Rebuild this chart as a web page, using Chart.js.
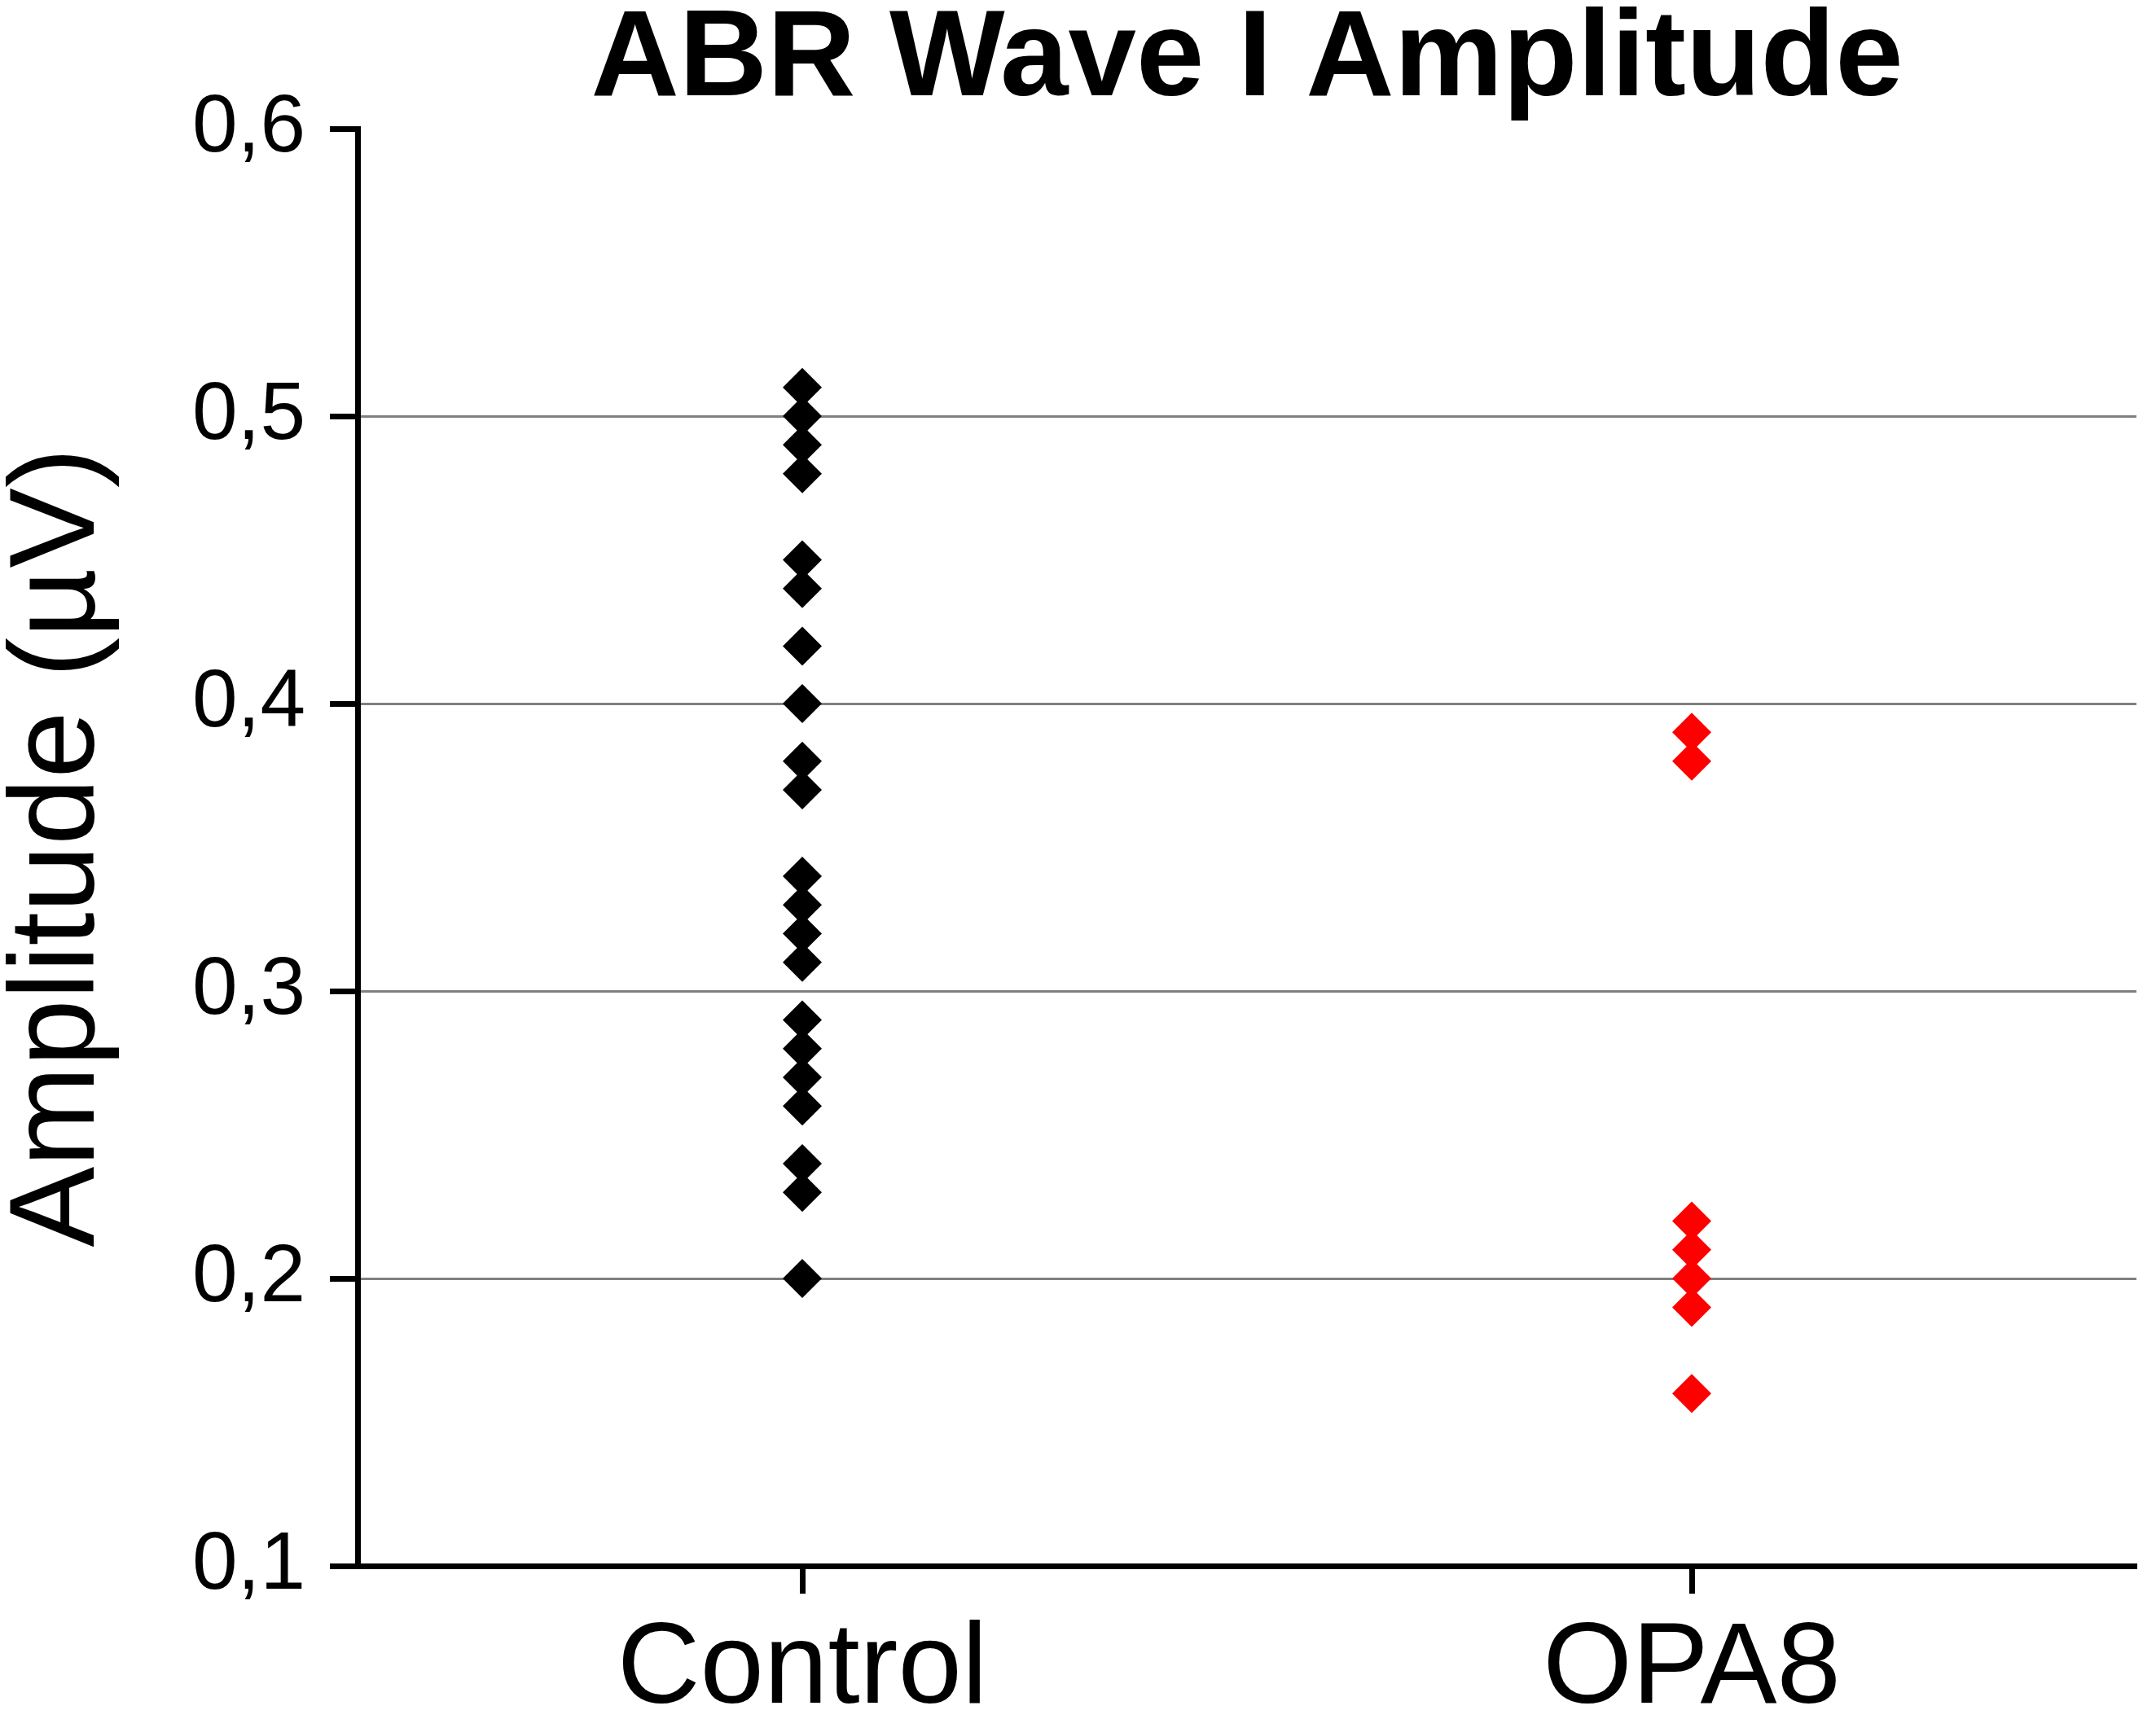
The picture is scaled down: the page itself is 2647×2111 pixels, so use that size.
<!DOCTYPE html>
<html>
<head>
<meta charset="utf-8">
<title>ABR Wave I Amplitude</title>
<script src="https://cdn.jsdelivr.net/npm/chart.js@4.4.1/dist/chart.umd.min.js"></script>
<style>
  html, body { margin: 0; padding: 0; background: #fff; }
  canvas { display: block; }
</style>
</head>
<body>
<canvas id="abrChart" width="2647" height="2111"></canvas>
<script>
// Data
const groups = ["Control", "OPA8"];
const controlValues = [0.51, 0.50, 0.49, 0.48, 0.45, 0.44, 0.42, 0.40, 0.38, 0.37,
  0.34, 0.33, 0.32, 0.31, 0.29, 0.28, 0.27, 0.26, 0.24, 0.23, 0.20];
const opa8Values = [0.39, 0.38, 0.22, 0.21, 0.20, 0.19, 0.16];
const yTicks = [0.1, 0.2, 0.3, 0.4, 0.5, 0.6];

const FONT = "'Liberation Sans', Arial, Helvetica, sans-serif";

// Turn a list of values into points for one group
function toPoints(group, values) {
  return values.map(v => ({ x: group, y: v }));
}

// Comma decimal like the original
function formatTick(v) {
  return v.toFixed(1).replace(".", ",");
}

const ctx = document.getElementById("abrChart").getContext("2d");
const chart = new Chart(ctx, {
  type: "line",
  data: {
    labels: groups,
    datasets: [
      {
        label: groups[0],
        data: toPoints(groups[0], controlValues),
        showLine: false,
        pointStyle: "rectRot",
        pointRadius: 24,
        pointHoverRadius: 24,
        pointBorderWidth: 0,
        pointBackgroundColor: "#000000",
        pointBorderColor: "#000000"
      },
      {
        label: groups[1],
        data: toPoints(groups[1], opa8Values),
        showLine: false,
        pointStyle: "rectRot",
        pointRadius: 24,
        pointHoverRadius: 24,
        pointBorderWidth: 0,
        pointBackgroundColor: "#ff0000",
        pointBorderColor: "#ff0000"
      }
    ]
  },
  options: {
    responsive: false,
    animation: false,
    devicePixelRatio: 1,
    events: [],
    layout: { padding: { left: 0, right: 1, top: 0, bottom: -36 } },
    plugins: {
      legend: { display: false },
      tooltip: { enabled: false },
      title: {
        display: true,
        text: "ABR Wave I Amplitude",
        fullSize: false,
        color: "#000000",
        font: { family: FONT, size: 150, weight: "bold", lineHeight: 1.0 },
        padding: { top: 1, bottom: 7 }
      }
    },
    scales: {
      x: {
        type: "category",
        offset: true,
        grid: {
          offset: false,
          drawOnChartArea: false,
          drawTicks: true,
          tickLength: 34,
          tickWidth: 7,
          tickColor: "#000000"
        },
        border: { display: true, color: "#000000", width: 7 },
        ticks: {
          color: "#000000",
          padding: 35,
          font: { family: FONT, size: 141, lineHeight: 0.85 }
        }
      },
      y: {
        min: yTicks[0],
        max: yTicks[yTicks.length - 1],
        afterBuildTicks: axis => {
          axis.ticks = yTicks.map(v => ({ value: v }));
        },
        grid: {
          color: c => (c.tick && (c.tick.value === yTicks[0] || c.tick.value === yTicks[yTicks.length - 1]))
            ? "rgba(0,0,0,0)" : "#808080",
          lineWidth: 3,
          drawTicks: true,
          tickLength: 34,
          tickWidth: 7,
          tickColor: "#000000"
        },
        border: { display: true, color: "#000000", width: 7 },
        ticks: {
          color: "#000000",
          padding: 30,
          font: { family: FONT, size: 100 },
          callback: v => formatTick(v)
        },
        title: {
          display: true,
          text: "Amplitude (\u00b5V)",
          color: "#000000",
          font: { family: FONT, size: 148, lineHeight: 1.0 },
          padding: { top: 0, bottom: 58 }
        }
      }
    }
  }
});
</script>
</body>
</html>
